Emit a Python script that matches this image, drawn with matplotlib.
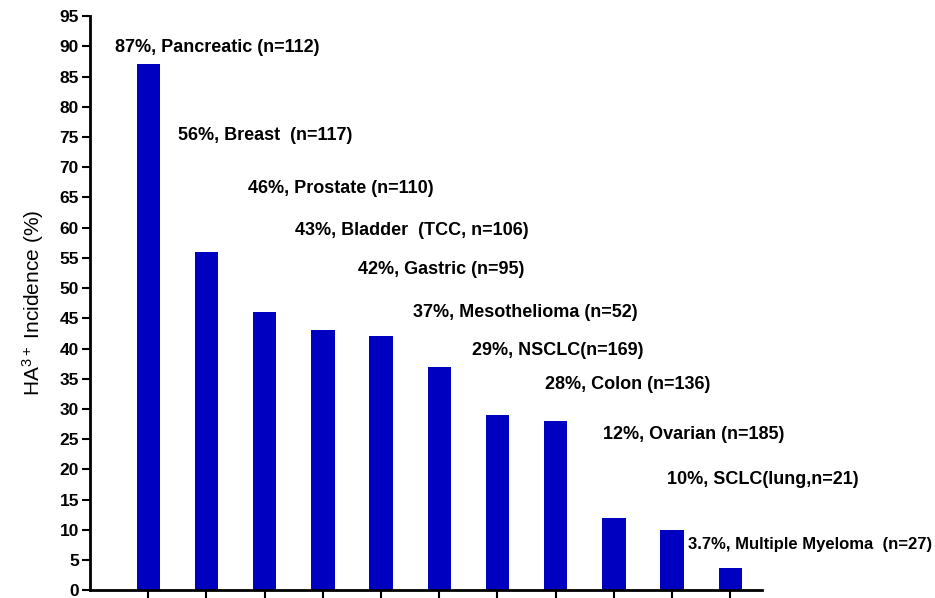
import numpy as np
import matplotlib.pyplot as plt

plt.rcParams['font.family'] = ['Liberation Sans', 'DejaVu Sans']
plt.rcParams['mathtext.default'] = 'regular'

# Частота HA3+ по типам опухолей
labels = ['87%, Pancreatic (n=112)', '56%, Breast  (n=117)', '46%, Prostate (n=110)',
          '43%, Bladder  (TCC, n=106)', '42%, Gastric (n=95)', '37%, Mesothelioma (n=52)',
          '29%, NSCLC(n=169)', '28%, Colon (n=136)', '12%, Ovarian (n=185)',
          '10%, SCLC(lung,n=21)', '3.7%, Multiple Myeloma  (n=27)']
incidence = [87, 56, 46, 43, 42, 37, 29, 28, 12, 10, 3.7]

# положение подписей (x, y в координатах данных)
label_x = [0.43, 1.51, 2.71, 3.52, 4.6, 5.55, 6.56, 7.82, 8.81, 9.91, 10.27]
label_y = [89.8, 75.2, 66.5, 59.6, 53.0, 46.0, 39.6, 34.0, 25.7, 18.3, 7.6]

x = np.arange(1, len(incidence) + 1)

fig = plt.figure(figsize=(9.35, 5.98), dpi=100)
ax = fig.add_axes([0.0963, 0.013, 0.719, 0.96])

ax.bar(x, incidence, width=0.4, color='#0000C0')

for i, (lx, ly, txt) in enumerate(zip(label_x, label_y, labels)):
    fs = 12 if i == len(labels) - 1 else 13
    ax.text(lx, ly, txt, fontsize=fs, fontweight='bold', va='center', ha='left')

ax.set_xlim(0, 11.55)
ax.set_ylim(0, 95)
ax.set_yticks(np.arange(0, 96, 5))
ax.set_xticks(x)
ax.set_xticklabels([])
ax.tick_params(axis='both', direction='out', length=6, width=1.5)
ax.tick_params(axis='y', labelsize=12.5, pad=2)
for lab in ax.get_yticklabels():
    lab.set_fontweight('bold')

ax.spines['top'].set_visible(False)
ax.spines['right'].set_visible(False)
ax.spines['left'].set_linewidth(2)
ax.spines['bottom'].set_linewidth(2)

ax.set_ylabel(r'HA$^{3+}$ Incidence (%)', fontsize=15, labelpad=10)

fig.savefig('out.png', dpi=100)
